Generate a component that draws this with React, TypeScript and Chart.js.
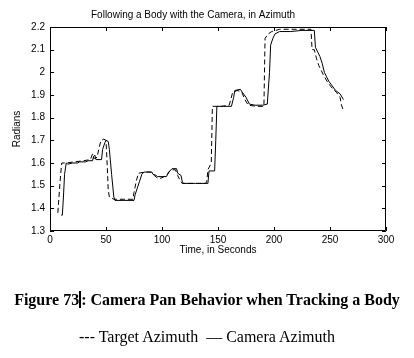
import React, { useEffect, useRef } from "react";
import { Chart, registerables } from "chart.js";

Chart.register(...registerables);

// Target azimuth (dashed)
const targetTime = [7, 8, 9.5, 10.5, 14, 22, 30, 36, 38, 39, 42, 44, 45.5, 48, 50, 51, 52, 53, 57, 66, 74, 75, 77, 79, 85, 90, 93, 97, 100, 104, 106, 108, 112, 114, 116, 118, 130, 139, 140, 141, 144, 145, 153, 160, 163, 167, 171, 174, 177, 185, 191, 192, 195, 198, 205, 233, 234, 236, 238, 240, 244, 248, 252, 256, 259, 260, 262];
const targetAz = [1.38, 1.45, 1.55, 1.6, 1.6, 1.605, 1.61, 1.615, 1.64, 1.62, 1.625, 1.67, 1.7, 1.705, 1.7, 1.6, 1.48, 1.45, 1.44, 1.44, 1.44, 1.47, 1.52, 1.555, 1.56, 1.56, 1.545, 1.53, 1.535, 1.545, 1.56, 1.57, 1.57, 1.545, 1.525, 1.51, 1.51, 1.51, 1.52, 1.57, 1.6, 1.85, 1.85, 1.855, 1.91, 1.92, 1.915, 1.88, 1.855, 1.85, 1.85, 2.15, 2.17, 2.18, 2.19, 2.19, 2.1, 2.1, 2.06, 2.03, 1.99, 1.955, 1.93, 1.91, 1.89, 1.86, 1.83];

// Camera azimuth (solid)
const cameraTime = [10, 11, 12, 13, 14.5, 16, 20, 25, 26, 32, 34, 38, 39, 40, 41, 46, 47, 49, 50, 52, 53, 55, 57, 58, 66, 75, 76, 78, 80, 82, 84, 91, 92, 95, 96, 104, 105, 107, 109, 113, 114, 117, 118, 119, 130, 141, 142, 147, 148, 149, 155, 162, 164, 165, 170, 172, 175, 178, 183, 190, 194, 196, 197, 199, 201, 205, 215, 225, 236, 237, 239, 241, 243, 245, 247, 249, 252, 255, 259, 262];
const cameraAz = [1.37, 1.37, 1.45, 1.55, 1.6, 1.595, 1.6, 1.6, 1.605, 1.605, 1.61, 1.61, 1.63, 1.635, 1.615, 1.615, 1.66, 1.69, 1.7, 1.695, 1.66, 1.55, 1.45, 1.435, 1.435, 1.435, 1.46, 1.49, 1.52, 1.55, 1.56, 1.56, 1.55, 1.545, 1.54, 1.54, 1.55, 1.565, 1.575, 1.575, 1.555, 1.545, 1.52, 1.51, 1.51, 1.51, 1.565, 1.565, 1.7, 1.85, 1.85, 1.85, 1.89, 1.92, 1.925, 1.91, 1.89, 1.86, 1.855, 1.855, 1.86, 2.0, 2.12, 2.15, 2.17, 2.18, 2.18, 2.185, 2.185, 2.11, 2.09, 2.07, 2.04, 2.0, 1.98, 1.96, 1.94, 1.92, 1.905, 1.88];

const xTickLabels = ["0", "50", "100", "150", "200", "250", "300"];
const yTickLabels = ["1.3", "1.4", "1.5", "1.6", "1.7", "1.8", "1.9", "2", "2.1", "2.2"];

const FONT = "'Liberation Sans', Arial, sans-serif";

const framePlugin = {
  id: "frame",
  afterDatasetsDraw(chart: any) {
    const { ctx, chartArea: a, scales } = chart;
    const x = scales.x;
    const y = scales.y;
    ctx.save();
    ctx.strokeStyle = "#000";
    ctx.lineWidth = 1;
    ctx.beginPath();
    ctx.rect(Math.round(a.left) + 0.5, Math.round(a.top) + 0.5, Math.round(a.width) - 1, Math.round(a.height) - 1);
    const L = 4;
    x.ticks.forEach((t: any) => {
      const px = Math.round(x.getPixelForValue(t.value)) + 0.5;
      ctx.moveTo(px, a.bottom);
      ctx.lineTo(px, a.bottom - L);
      ctx.moveTo(px, a.top);
      ctx.lineTo(px, a.top + L);
    });
    y.ticks.forEach((t: any) => {
      const py = Math.round(y.getPixelForValue(t.value)) + 0.5;
      ctx.moveTo(a.left, py);
      ctx.lineTo(a.left + L, py);
      ctx.moveTo(a.right, py);
      ctx.lineTo(a.right - L, py);
    });
    ctx.stroke();
    ctx.restore();
  },
};

export default function App() {
  const ref = useRef<HTMLCanvasElement>(null);

  useEffect(() => {
    if (!ref.current) return;
    const chart = new Chart(ref.current, {
      type: "scatter",
      data: {
        datasets: [
          {
            label: "Target Azimuth",
            data: targetTime.map((t, i) => ({ x: t, y: targetAz[i] })),
            showLine: true,
            borderColor: "#000",
            borderWidth: 1,
            borderDash: [5, 3],
            pointRadius: 0,
            tension: 0,
          },
          {
            label: "Camera Azimuth",
            data: cameraTime.map((t, i) => ({ x: t, y: cameraAz[i] })),
            showLine: true,
            borderColor: "#000",
            borderWidth: 1,
            pointRadius: 0,
            tension: 0,
          },
        ],
      },
      options: {
        responsive: false,
        animation: false,
        layout: { padding: { left: 0, right: 28, top: 0, bottom: 97 } },
        plugins: {
          legend: { display: false },
          tooltip: { enabled: false },
          title: {
            display: true,
            text: "Following a Body with the Camera, in Azimuth",
            color: "#000",
            font: { family: FONT, size: 10, weight: "normal" },
            padding: { top: 9, bottom: 6 },
          },
        },
        scales: {
          x: {
            type: "linear",
            min: 0,
            max: 300,
            afterFit: (s: any) => {
              s.height = 30;
            },
            ticks: {
              stepSize: 50,
              color: "#000",
              padding: 3,
              maxRotation: 0,
              font: { family: FONT, size: 10 },
              callback: (_v: any, i: number) => xTickLabels[i],
            },
            grid: { display: false, drawTicks: false },
            border: { display: false },
            title: {
              display: true,
              text: "Time, in Seconds",
              color: "#000",
              font: { family: FONT, size: 10 },
              padding: { top: 0, bottom: 5 },
            },
          },
          y: {
            type: "linear",
            min: 1.3,
            max: 2.2,
            afterFit: (s: any) => {
              s.width = 50;
            },
            ticks: {
              stepSize: 0.1,
              color: "#000",
              padding: 5,
              font: { family: FONT, size: 10 },
              callback: (_v: any, i: number) => yTickLabels[i],
            },
            grid: { display: false, drawTicks: false },
            border: { display: false },
            title: {
              display: true,
              text: "Radians",
              color: "#000",
              font: { family: FONT, size: 10 },
              padding: { top: 11, bottom: 0 },
            },
          },
        },
      },
      plugins: [framePlugin],
    });
    return () => chart.destroy();
  }, []);

  return (
    <div style={{ position: "absolute", left: 0, top: 0, width: 414, height: 358, background: "#fff" }}>
      <canvas ref={ref} width={414} height={358} style={{ position: "absolute", left: 0, top: 0 }} />
      <div
        style={{
          position: "absolute",
          left: 0,
          top: 290,
          width: 414,
          textAlign: "center",
          fontFamily: "'Liberation Serif', 'Times New Roman', serif",
          fontWeight: "bold",
          fontSize: 16,
          lineHeight: "20px",
          color: "#000",
          whiteSpace: "nowrap",
        }}
      >
        Figure 73
        <span style={{ display: "inline-block", width: 2, height: 17, background: "#000", verticalAlign: "-3px" }} />
        : Camera Pan Behavior when Tracking a Body
      </div>
      <div
        style={{
          position: "absolute",
          left: 0,
          top: 327,
          width: 414,
          textAlign: "center",
          fontFamily: "'Liberation Serif', 'Times New Roman', serif",
          fontSize: 16,
          lineHeight: "20px",
          color: "#000",
          whiteSpace: "pre",
        }}
      >
        {"--- Target Azimuth  \u2014 Camera Azimuth"}
      </div>
    </div>
  );
}
